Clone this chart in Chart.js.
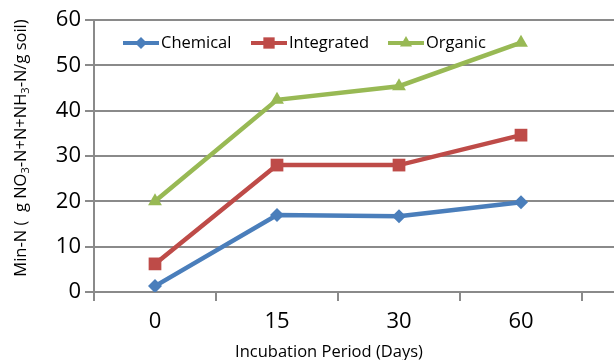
<!DOCTYPE html>
<html>
<head>
<meta charset="utf-8">
<script src="https://cdn.jsdelivr.net/npm/chart.js@4/dist/chart.umd.min.js"></script>
<style>
    html, body { margin: 0; padding: 0; background: #fff; overflow: hidden; }
    #wrap { width: 614px; height: 360px; overflow: hidden; position: relative; }
    #box { width: 720px; height: 360px; }
</style>
</head>
<body>
<div id="wrap"><div id="box"><canvas id="minChart"></canvas></div></div>
<script>
// ===== DATA =====
const days = ['0', '15', '30', '60', ''];
const chemical = [1.3, 17.0, 16.7, 19.8];
const integrated = [6.2, 28.0, 28.0, 34.6];
const organic = [20.0, 42.4, 45.4, 55.0];
const yTicks = [0, 10, 20, 30, 40, 50, 60];

const seriesNames = ['Chemical', 'Integrated', 'Organic'];
const seriesColors = ['#4a7ebb', '#be4b48', '#98b954'];
const seriesMarkers = ['rectRot', 'rect', 'triangle'];
const markerSizes = [7, 9, 8];

const xTitle = 'Incubation Period (Days)';
// y title pieces: [text, isSubscript]
const yTitleParts = [['Min-N (  g NO', false], ['3', true], ['-N+N+NH', false], ['3', true], ['-N/g soil)', false]];

const gridGray = '#8a8a8a';
const fontFamily = '"Open Sans", sans-serif';

// legend + axis titles drawn by hand, like the original
const extras = {
    id: 'extras',
    afterDraw(chart) {
        const ctx = chart.ctx;
        ctx.save();

        // legend
        const xs = [123, 251, 388];
        const y = 43;
        ctx.font = '16.5px ' + fontFamily;
        ctx.textBaseline = 'middle';
        seriesNames.forEach((name, i) => {
            ctx.strokeStyle = seriesColors[i];
            ctx.lineWidth = 4;
            ctx.beginPath();
            ctx.moveTo(xs[i], y);
            ctx.lineTo(xs[i] + 36, y);
            ctx.stroke();
            ctx.fillStyle = seriesColors[i];
            Chart.helpers.drawPoint(ctx, {
                pointStyle: seriesMarkers[i],
                radius: markerSizes[i] - 1,
                borderWidth: 0
            }, xs[i] + 18, y);
            ctx.fillStyle = '#000';
            ctx.textAlign = 'left';
            ctx.fillText(name, xs[i] + 38, y);
        });

        // x title
        ctx.fillStyle = '#000';
        ctx.font = '16.5px ' + fontFamily;
        ctx.textAlign = 'center';
        ctx.textBaseline = 'middle';
        ctx.fillText(xTitle, 329, 352);

        // y title (rotated, with subscripts)
        const big = '16.5px ' + fontFamily;
        const small = '11px ' + fontFamily;
        let total = 0;
        yTitleParts.forEach(p => {
            ctx.font = p[1] ? small : big;
            total += ctx.measureText(p[0]).width;
        });
        ctx.translate(21, 148);
        ctx.rotate(-Math.PI / 2);
        ctx.textAlign = 'left';
        ctx.textBaseline = 'middle';
        let cx = -total / 2;
        yTitleParts.forEach(p => {
            ctx.font = p[1] ? small : big;
            ctx.fillText(p[0], cx, p[1] ? 5 : 0);
            cx += ctx.measureText(p[0]).width;
        });
        ctx.restore();
    }
};

const datasets = [chemical, integrated, organic].map((values, i) => ({
    label: seriesNames[i],
    data: values,
    borderColor: seriesColors[i],
    backgroundColor: seriesColors[i],
    borderWidth: 4.5,
    pointStyle: seriesMarkers[i],
    pointRadius: markerSizes[i],
    pointHoverRadius: markerSizes[i],
    pointBorderWidth: 0,
    tension: 0
}));

new Chart(document.getElementById('minChart'), {
    type: 'line',
    data: { labels: days, datasets: datasets },
    options: {
        responsive: true,
        maintainAspectRatio: false,
        animation: false,
        layout: { padding: { top: 20, left: 0, right: 16, bottom: 0 } },
        plugins: {
            legend: { display: false },
            tooltip: { enabled: false }
        },
        scales: {
            x: {
                offset: true,
                grid: {
                    offset: true,
                    drawOnChartArea: false,
                    drawTicks: true,
                    tickLength: 9,
                    color: gridGray,
                    lineWidth: 2
                },
                border: { color: gridGray, width: 2 },
                ticks: {
                    color: '#000',
                    font: { family: fontFamily, size: 22 },
                    padding: 8,
                    maxRotation: 0
                },
                afterFit(scale) { scale.height = 68; }
            },
            y: {
                min: 0,
                max: 60,
                afterBuildTicks(scale) { scale.ticks = yTicks.map(v => ({ value: v })); },
                grid: {
                    color: gridGray,
                    lineWidth: 2,
                    tickLength: 9
                },
                border: { color: gridGray, width: 2 },
                ticks: {
                    color: '#000',
                    font: { family: fontFamily, size: 22 },
                    padding: 4
                },
                afterFit(scale) { scale.width = 94; }
            }
        }
    },
    plugins: [extras]
});
</script>
</body>
</html>
